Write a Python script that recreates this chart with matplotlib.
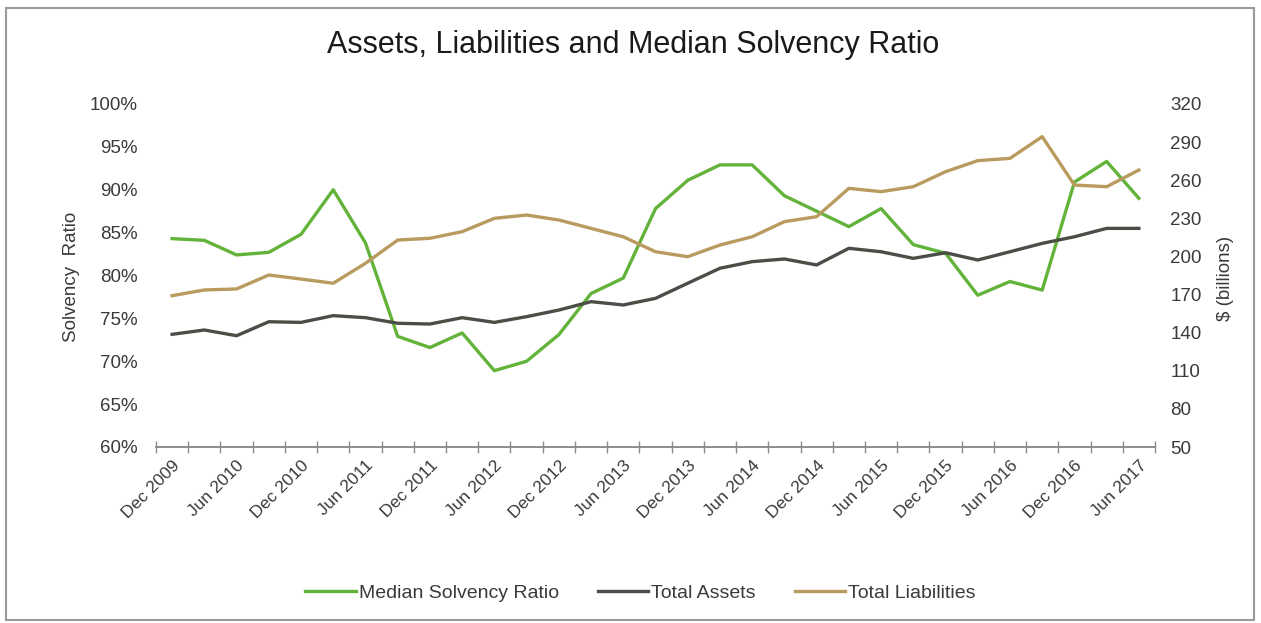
import matplotlib.pyplot as plt
from matplotlib.patches import Rectangle

plt.rcParams['font.family'] = ['Liberation Sans', 'DejaVu Sans']

# quarters Dec 2009 .. Jun 2017
quarters = ['Dec 2009', 'Mar 2010', 'Jun 2010', 'Sep 2010', 'Dec 2010', 'Mar 2011', 'Jun 2011',
            'Sep 2011', 'Dec 2011', 'Mar 2012', 'Jun 2012', 'Sep 2012', 'Dec 2012', 'Mar 2013',
            'Jun 2013', 'Sep 2013', 'Dec 2013', 'Mar 2014', 'Jun 2014', 'Sep 2014', 'Dec 2014',
            'Mar 2015', 'Jun 2015', 'Sep 2015', 'Dec 2015', 'Mar 2016', 'Jun 2016', 'Sep 2016',
            'Dec 2016', 'Mar 2017', 'Jun 2017']

solvency = [84.3, 84.1, 82.4, 82.7, 84.8, 90.0, 83.8, 72.9, 71.6, 73.3, 68.9, 70.0, 73.1, 77.9,
            79.7, 87.8, 91.1, 92.9, 92.9, 89.3, 87.5, 85.7, 87.8, 83.6, 82.6, 77.7, 79.3, 78.3,
            90.9, 93.3, 89.0]
assets = [138.7, 142.1, 137.6, 148.6, 148.1, 153.4, 151.8, 147.4, 146.8, 151.8, 148.1, 152.6,
          157.8, 164.4, 161.8, 167.0, 178.9, 190.7, 195.9, 198.0, 193.3, 206.4, 203.7, 198.5,
          202.9, 197.2, 203.7, 210.3, 215.5, 222.1, 222.1]
liabilities = [169.1, 173.6, 174.4, 185.4, 182.2, 178.9, 194.6, 212.9, 214.3, 219.5, 230.0, 232.6,
               228.7, 222.1, 215.5, 203.7, 199.8, 209.0, 215.5, 227.4, 231.3, 253.6, 251.0, 254.9,
               266.7, 275.4, 277.2, 294.3, 256.2, 254.9, 268.0]

green = '#63b33b'
dark = '#4b4e47'
brown = '#b99a5f'
txt = '#3a3a3a'

fig = plt.figure(figsize=(12.61, 6.23), dpi=100)
fig.patches.append(Rectangle((6 / 1261, 3 / 623), 1248 / 1261, 612 / 623, transform=fig.transFigure,
                             fill=False, edgecolor='#9a9a9a', linewidth=1.5))

ax = fig.add_axes([156 / 1261, 1 - 447 / 623, 999 / 1261, 343 / 623])
ax2 = ax.twinx()

x = list(range(len(quarters)))
l1, = ax.plot(x, solvency, color=green, lw=2.4, label='Median Solvency Ratio')
l2, = ax2.plot(x, assets, color=dark, lw=2.4, label='Total Assets')
l3, = ax2.plot(x, liabilities, color=brown, lw=2.4, label='Total Liabilities')

ax.set_xlim(-0.5, len(quarters) - 0.5)
ax.set_ylim(60, 100)
ax2.set_ylim(50, 320)
ax.set_yticks(range(60, 101, 5))
ax.set_yticklabels([str(v) + '%' for v in range(60, 101, 5)])
ax2.set_yticks(range(50, 321, 30))

ax.set_xticks(x[::2])
ax.set_xticklabels(quarters[::2], rotation=45, ha='right', rotation_mode='anchor')
ax.set_xticks([i - 0.5 for i in range(len(quarters) + 1)], minor=True)
ax.tick_params(axis='x', which='major', length=0, pad=8, labelsize=12.5, labelcolor=txt)
ax.tick_params(axis='x', which='minor', direction='inout', length=9, width=1, color='#8c8c8c')
ax.tick_params(axis='y', length=0, pad=13, labelsize=13.5, labelcolor=txt)
ax2.tick_params(axis='y', length=0, pad=11, labelsize=13.5, labelcolor=txt)

for a in (ax, ax2):
    for s in ['top', 'left', 'right']:
        a.spines[s].set_visible(False)
    a.spines['bottom'].set_color('#8c8c8c')
    a.spines['bottom'].set_linewidth(1.2)

ax.set_ylabel('Solvency  Ratio', fontsize=13.5, color=txt)
ax.yaxis.set_label_coords(-0.076, 0.496)
ax2.set_ylabel('$ (billions)', fontsize=13.5, color=txt, rotation=90)
ax2.yaxis.set_label_coords(1.062, 0.492)

fig.suptitle('Assets, Liabilities and Median Solvency Ratio', x=0.502, y=1 - 45 / 623,
             va='center', fontsize=22, color='#1a1a1a')

fig.legend(handles=[l1, l2, l3], loc='center', bbox_to_anchor=(0.508, 1 - 593 / 623), ncol=3,
           frameon=False, fontsize=14, handlelength=2.6, handletextpad=0.15, columnspacing=2.0,
           labelcolor=txt)

plt.savefig('out.png', dpi=100)
